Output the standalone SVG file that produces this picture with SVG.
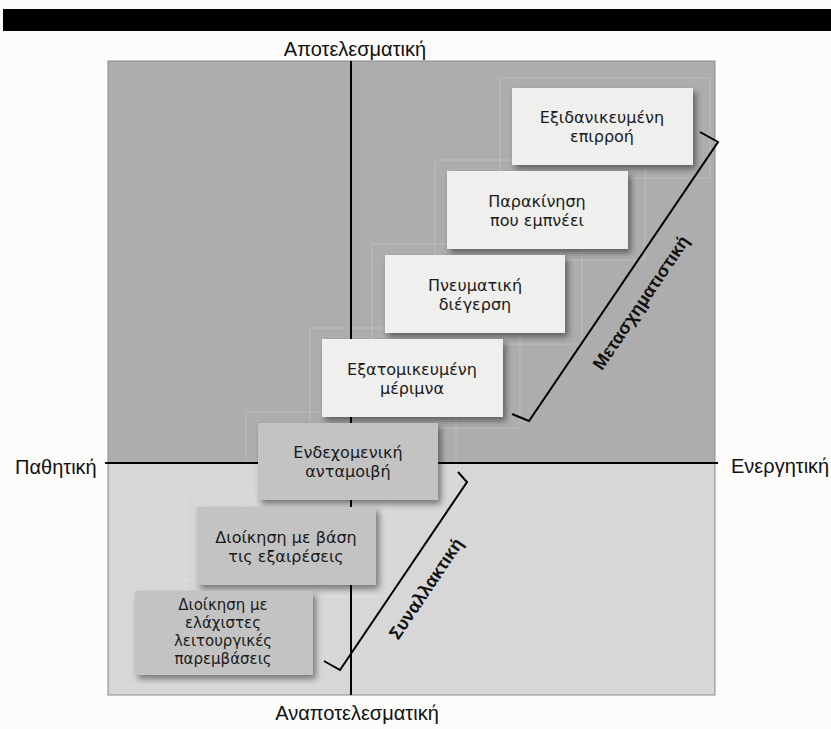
<svg xmlns="http://www.w3.org/2000/svg" width="831" height="729" viewBox="0 0 831 729">
<defs>
<filter id="sh" x="-10%" y="-10%" width="125%" height="130%">
<feDropShadow dx="3" dy="4" stdDeviation="3" flood-color="#000" flood-opacity="0.45"/>
</filter>
<style>
.ax{font-family:"Liberation Sans",Arial,sans-serif;font-size:20px;fill:#111}
.bt{font-family:"DejaVu Sans","Noto Sans",sans-serif;font-size:16px;fill:#1a1a1a;text-anchor:middle}
.bs{font-size:15px}
.lb{font-family:"Liberation Sans",Arial,sans-serif;font-size:18px;font-weight:bold;fill:#111;text-anchor:middle}
.light{fill:#efefed}
.gray{fill:#c3c3c3}
.ln{stroke:#000;stroke-width:2;fill:none}
.gh{fill:none;stroke:#ffffff;stroke-opacity:0.18;stroke-width:1}
</style>
</defs>
<rect width="831" height="729" fill="#fcfcfb"/>
<rect x="3" y="9" width="828" height="22" fill="#000"/>
<g id="quadrant">
<rect x="108" y="61" width="607" height="402" fill="#adadad"/>
<rect x="108" y="463" width="607" height="232" fill="#d7d7d7"/>
<rect x="108" y="61" width="607" height="634" fill="none" stroke="#8a8a8a" stroke-width="1"/>
<rect class="gh" x="500" y="78" width="210" height="100"/>
<rect class="gh" x="435" y="160" width="210" height="100"/>
<rect class="gh" x="372" y="244" width="210" height="100"/>
<rect class="gh" x="310" y="328" width="210" height="100"/>
<rect class="gh" x="246" y="412" width="210" height="100"/>
<rect class="gh" x="185" y="496" width="205" height="100"/>
<rect class="gh" x="123" y="580" width="205" height="105"/>
</g>
<g id="axes">
<line x1="351" y1="61" x2="351" y2="695" stroke="#000" stroke-width="2"/>
<line x1="105" y1="463" x2="718" y2="463" stroke="#000" stroke-width="2"/>
</g>
<g id="axis-labels">
<text class="ax" x="355" y="56" text-anchor="middle">Αποτελεσματική</text>
<text class="ax" x="357" y="720" text-anchor="middle">Αναποτελεσματική</text>
<text class="ax" x="15" y="474">Παθητική</text>
<text class="ax" x="731" y="473">Ενεργητική</text>
</g>
<g id="n1">
<rect class="light" x="512" y="88" width="181" height="77" filter="url(#sh)"/>
<text class="bt" x="602" y="123">Εξιδανικευμένη</text>
<text class="bt" x="602" y="142">επιρροή</text>
</g>
<g id="n2">
<rect class="light" x="447" y="171" width="181" height="78" filter="url(#sh)"/>
<text class="bt" x="537" y="207">Παρακίνηση</text>
<text class="bt" x="537" y="226">που εμπνέει</text>
</g>
<g id="n3">
<rect class="light" x="385" y="255" width="180" height="78" filter="url(#sh)"/>
<text class="bt" x="475" y="291">Πνευματική</text>
<text class="bt" x="475" y="310">διέγερση</text>
</g>
<g id="n4">
<rect class="light" x="322" y="339" width="181" height="78" filter="url(#sh)"/>
<text class="bt" x="412" y="375">Εξατομικευμένη</text>
<text class="bt" x="412" y="394">μέριμνα</text>
</g>
<g id="n5">
<rect class="gray" x="258" y="423" width="180" height="77" filter="url(#sh)"/>
<text class="bt" x="348" y="458">Ενδεχομενική</text>
<text class="bt" x="348" y="477">ανταμοιβή</text>
</g>
<g id="n6">
<rect class="gray" x="197" y="507" width="179" height="78" filter="url(#sh)"/>
<text class="bt" x="286" y="543">Διοίκηση με βάση</text>
<text class="bt" x="286" y="562">τις εξαιρέσεις</text>
</g>
<g id="n7">
<rect class="gray" x="135" y="591" width="178" height="84" filter="url(#sh)"/>
<text class="bt bs" x="223" y="610">Διοίκηση με</text>
<text class="bt bs" x="223" y="628">ελάχιστες</text>
<text class="bt bs" x="223" y="646">λειτουργικές</text>
<text class="bt bs" x="223" y="664">παρεμβάσεις</text>
</g>
<g id="connectors">
<polyline class="ln" points="700,132 718,142 529,421 512,414"/>
<polyline class="ln" points="458,472 467,482 340,670 324,661"/>
</g>
<g id="bracket-labels">
<text class="lb" transform="translate(646,306) rotate(-56)">Μετασχηματιστική</text>
<text class="lb" transform="translate(431,592) rotate(-56)">Συναλλακτική</text>
</g>
</svg>
